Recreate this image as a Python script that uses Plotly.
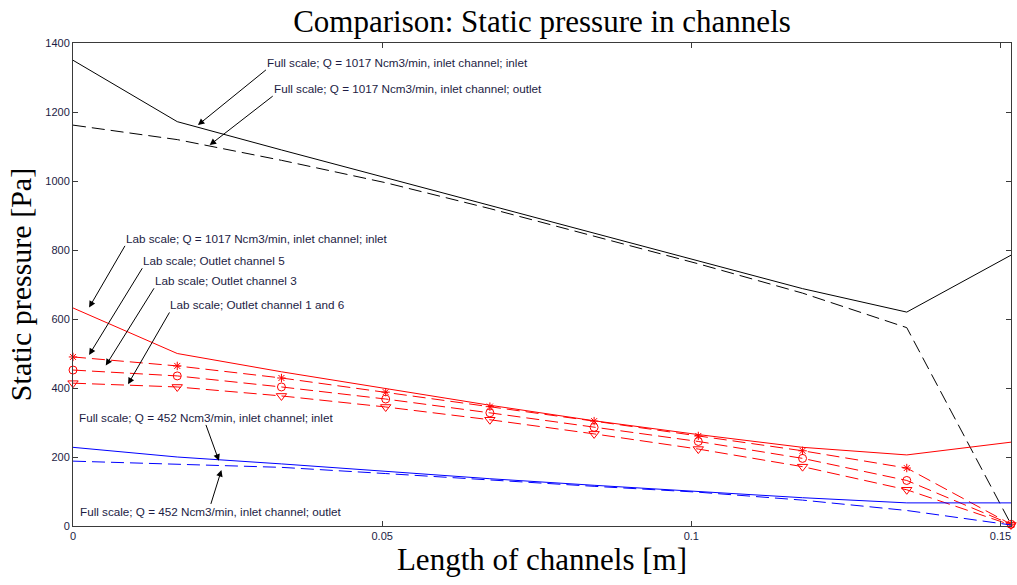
import plotly.graph_objects as go

# Channel positions along the length [m]
length_m = [0.0, 0.01686, 0.03371, 0.05057, 0.06742, 0.08428, 0.10113, 0.11799, 0.13484, 0.1517]

# Full scale, Q = 1017 Ncm3/min
full1017_inlet = [1350, 1172, 1090, 1010, 930, 850, 770, 688, 620, 785]
full1017_outlet = [1162, 1120, 1060, 995, 920, 840, 760, 675, 575, 5]

# Lab scale, Q = 1017 Ncm3/min
lab_inlet = [632, 500, 447, 398, 350, 305, 265, 228, 206, 243]
lab_outlet5 = [490, 464, 429, 388, 346, 304, 261, 218, 168, 5]
lab_outlet3 = [452, 435, 403, 368, 328, 286, 245, 196, 132, 5]
lab_outlet16 = [414, 403, 377, 345, 308, 267, 223, 172, 105, 3]

# Full scale, Q = 452 Ncm3/min
full452_inlet = [228, 200, 180, 158, 137, 118, 100, 82, 67, 67]
full452_outlet = [188, 180, 170, 152, 133, 115, 98, 75, 45, 3]

x_ticks = [0, 0.05, 0.1, 0.15]
x_tick_text = ["0", "0.05", "0.1", "0.15"]
y_ticks = [0, 200, 400, 600, 800, 1000, 1200, 1400]

DASH = "13px,6px"
TEXT_COLOR = "#1c1c44"
SERIF = "Liberation Serif, Times New Roman"
SANS = "Liberation Sans, Arial"

fig = go.Figure()


def add_line(y, color, dash="solid", symbol=None, size=8):
    mode = "lines+markers" if symbol else "lines"
    fig.add_trace(go.Scatter(
        x=length_m, y=y, mode=mode,
        line=dict(color=color, width=1, dash=dash),
        marker=dict(symbol=symbol, size=size, color=color,
                    line=dict(color=color, width=1)) if symbol else None,
        cliponaxis=False, showlegend=False,
    ))


add_line(full1017_inlet, "#000000")
add_line(full1017_outlet, "#000000", DASH)
add_line(lab_inlet, "#ff0000")
add_line(lab_outlet5, "#ff0000", DASH, "asterisk-open", 7)
add_line(lab_outlet3, "#ff0000", DASH, "circle-open", 8)
add_line(lab_outlet16, "#ff0000", DASH, "triangle-down-open", 9)
add_line(full452_inlet, "#0000ff")
add_line(full452_outlet, "#0000ff", DASH)

# Text arrows: (label, head x, head y, tail x, tail y, xanchor, yanchor)
arrows = [
    ("Full scale; Q = 1017 Ncm3/min, inlet channel; inlet", 0.0202, 1162, 0.0312, 1322, "left", "bottom"),
    ("Full scale; Q = 1017 Ncm3/min, inlet channel; outlet", 0.0221, 1104, 0.0323, 1246, "left", "bottom"),
    ("Lab scale; Q = 1017 Ncm3/min, inlet channel; inlet", 0.0026, 633, 0.0084, 812, "left", "bottom"),
    ("Lab scale; Outlet channel 5", 0.0026, 496, 0.0112, 747, "left", "bottom"),
    ("Lab scale; Outlet channel 3", 0.0053, 465, 0.0131, 689, "left", "bottom"),
    ("Lab scale; Outlet channel 1 and 6", 0.0089, 411, 0.0156, 619, "left", "bottom"),
    ("Full scale; Q = 452 Ncm3/min, inlet channel; inlet", 0.0236, 189, 0.0215, 293, "center", "bottom"),
    ("Full scale; Q = 452 Ncm3/min, inlet channel; outlet", 0.0240, 162, 0.0223, 64, "center", "top"),
]
for text, hx, hy, tx, ty, xa, ya in arrows:
    fig.add_annotation(
        x=hx, y=hy, ax=tx, ay=ty, xref="x", yref="y", axref="x", ayref="y",
        text=text, showarrow=True, arrowhead=2, arrowsize=1.3, arrowwidth=1,
        arrowcolor="#000000", xanchor=xa, yanchor=ya, borderpad=0,
        font=dict(family=SANS, size=11.7, color=TEXT_COLOR),
    )

axis_common = dict(
    showline=True, linecolor="#3a3a3a", linewidth=1, mirror="ticks",
    ticks="inside", ticklen=5, tickcolor="#3a3a3a", showgrid=False, zeroline=False,
    tickfont=dict(family=SANS, size=11, color=TEXT_COLOR),
)

fig.update_layout(
    width=1017, height=585,
    margin=dict(l=73, r=6, t=43, b=59),
    paper_bgcolor="#ffffff", plot_bgcolor="#ffffff",
    title=dict(text="Comparison: Static pressure in channels", x=0.5, xref="paper",
               xanchor="center", y=0.964, yanchor="middle",
               font=dict(family=SERIF, size=31, color="#000000")),
    xaxis=dict(range=[0, 0.1517], tickvals=x_ticks, ticktext=x_tick_text,
               title=dict(text="Length of channels [m]", standoff=6,
                          font=dict(family=SERIF, size=31, color="#000000")),
               **axis_common),
    yaxis=dict(range=[0, 1400], tickvals=y_ticks,
               title=dict(text="Static pressure [Pa]", standoff=4,
                          font=dict(family=SERIF, size=30, color="#000000")),
               **axis_common),
)

fig.write_html("out.html")
